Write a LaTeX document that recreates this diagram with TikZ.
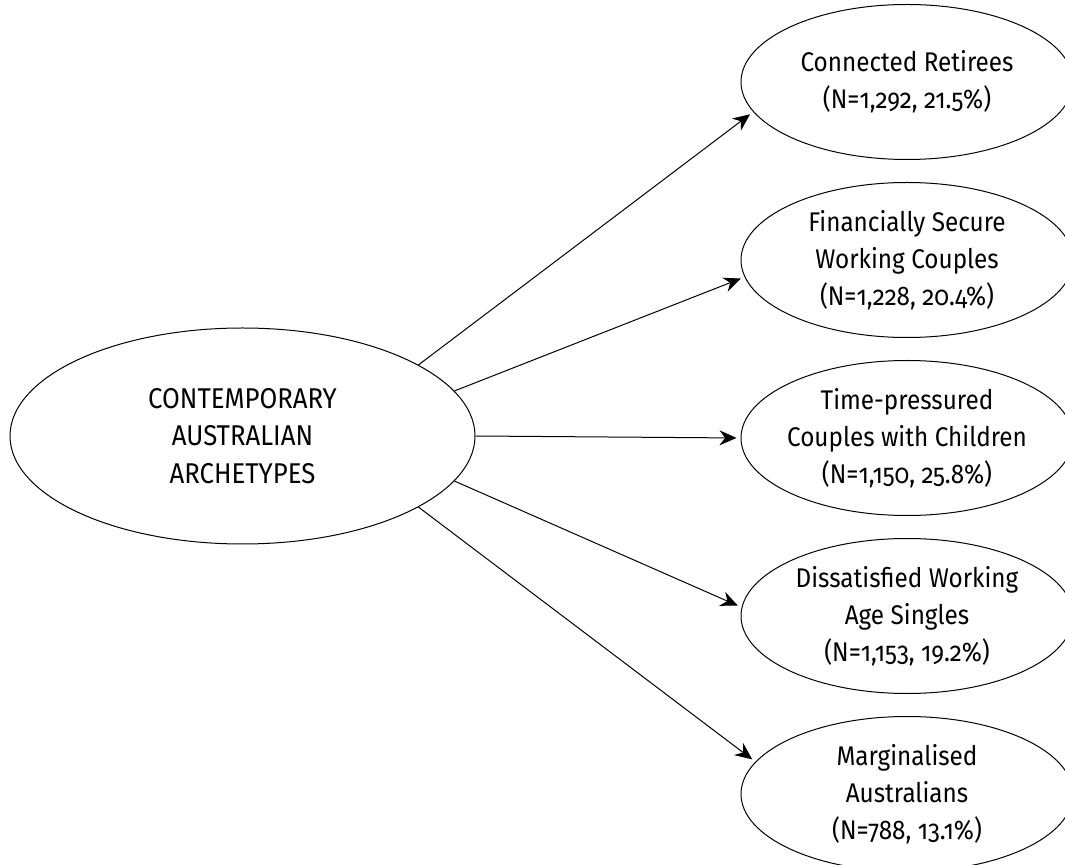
\documentclass[tikz,border=0pt]{standalone}
\usepackage{fontspec}
\setmainfont{Fira Sans}[Numbers=OldStyle, FakeStretch=0.9]
\usepackage{tikz}
\usetikzlibrary{positioning, shapes.geometric, arrows.meta}

\begin{document}
\begin{tikzpicture}[
		x=0.5pt, y=-0.5pt
		,node distance=11pt
		,archetype/.style={draw, ellipse, line width=.5pt, minimum width=166pt, minimum height=77.5pt, inner xsep=-20pt, inner ysep=-6pt, align=center, font=\fontsize{13.5}{18.5}\selectfont}
		,root/.style={draw, ellipse, line width=.5pt, minimum width=232.5pt, minimum height=108pt, inner sep=0pt, align=center, font=\fontsize{14.3}{18.75}\selectfont}
		,link/.style={line width=.5pt, -{Stealth[length=8.5pt, width=7.5pt]}, shorten >=2pt}
	]
		\useasboundingbox (0,0) rectangle (1065,865);

		\node[root] (caa) at (242.5,436) {CONTEMPORARY\\AUSTRALIAN\\ARCHETYPES};

		\node[archetype] (retirees) at (907,82) {Connected Retirees\\(N=1,292, 21.5\%)};
		\node[archetype, below=of retirees] (secure) {Financially Secure\\Working Couples\\(N=1,228, 20.4\%)};
		\node[archetype, below=of secure] (pressured) {Time-pressured\\Couples with Children\\(N=1,150, 25.8\%)};
		\node[archetype, below=of pressured] (singles) {Dissatisfied Working\\Age Singles\\(N=1,153, 19.2\%)};
		\node[archetype, below=of singles] (marginal) {Marginalised\\Australians\\(N=788, 13.1\%)};

		\draw[link] (caa.22) -- (retirees.191);
		\draw[link] (caa.12.5) -- (secure.186);
		\draw[link] (caa.0) -- (pressured.180);
		\draw[link] (caa.-12.5) -- (singles.177);
		\draw[link] (caa.-22) -- (marginal.168);
	\end{tikzpicture}
\end{document}
